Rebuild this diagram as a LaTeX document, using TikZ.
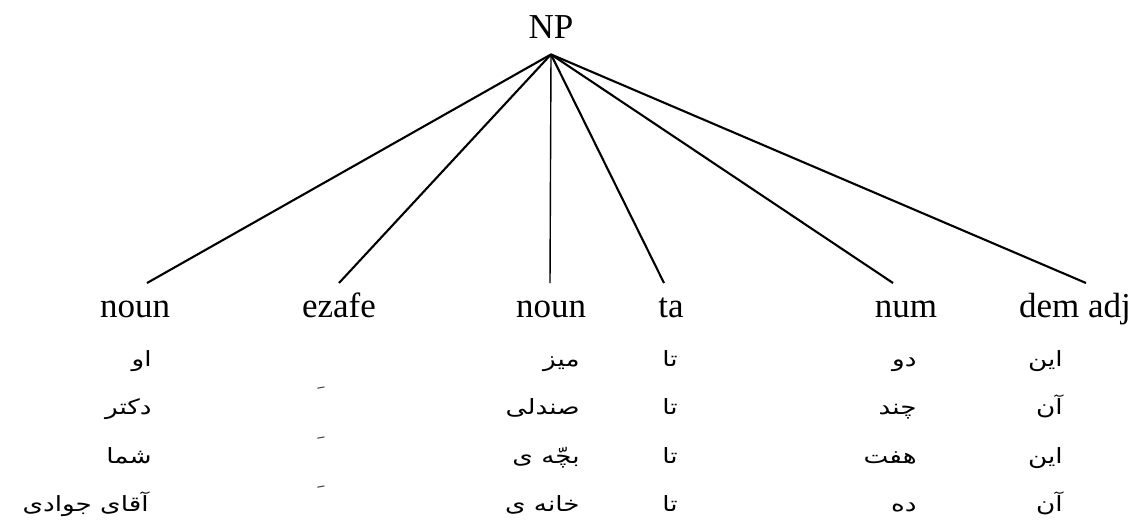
\documentclass[tikz,border=0pt]{standalone}
\usepackage{fontspec}
\setmainfont{Liberation Serif}
\newfontfamily\fa[Script=Arabic,FakeStretch=1.25]{DejaVu Sans}
\TeXXeTstate=1
\begin{document}
\begin{tikzpicture}[x=0.5pt,y=-0.5pt,
  lat/.style={font=\fontsize{17.5}{20}\selectfont, inner sep=0pt, anchor=base},
  cat/.style={lat, text height=0.75em, text depth=0.25em},
  per/.style={font=\fa\fontsize{10.5}{12}\selectfont, inner sep=0pt, anchor=base east},
  ez/.style={font=\fa\fontsize{10}{12}\selectfont, inner sep=0pt, anchor=center, text=black!80},
  br/.style={line width=1.05pt},
  brthin/.style={line width=0.7pt}]
\useasboundingbox (0,0) rectangle (1140,527);
% root
\node[lat, inner ysep=8pt] (NP) at (551,38) {NP};
% categories
\node[cat] (noun1) at (135,317) {noun};
\node[cat] (ezafe) at (339,317) {ezafe};
\node[cat] (noun2) at (551,317) {noun};
\node[cat] (ta) at (671,317) {ta};
\node[cat] (num) at (906,317) {num};
\node[cat] (demadj) at (1075,317) {dem adj};
% branch ends
\coordinate (e1) at (147,283);
\coordinate (e2) at (339,283);
\coordinate (e3) at (550,283);
\coordinate (e4) at (664,283);
\coordinate (e5) at (893,283);
\coordinate (e6) at (1086,283);
\foreach \e in {e1,e2,e4,e5,e6} \draw[br] (NP.south) -- (\e);
\draw[brthin] (NP.south) -- (e3);
% Persian examples: column 1
\node[per] (a1) at (152,366) {\beginR او\endR};
\node[per] (a2) at (152,414) {\beginR دکتر\endR};
\node[per] (a3) at (152,463) {\beginR شما\endR};
\node[per] (a4) at (149,511) {\beginR آقای جوادی\endR};
% ezafe marks
\node[ez] (k1) at (321,388) {ﹺ};
\node[ez] (k2) at (321,438) {ﹺ};
\node[ez] (k3) at (321,487) {ﹺ};
% column 2
\node[per] (b1) at (580,366) {\beginR میز\endR};
\node[per] (b2) at (580,414) {\beginR صندلی\endR};
\node[per] (b3) at (580,463) {\beginR بچّه ی\endR};
\node[per] (b4) at (580,511) {\beginR خانه ی\endR};
% column 3
\node[per] (c1) at (678,366) {\beginR تا\endR};
\node[per] (c2) at (678,414) {\beginR تا\endR};
\node[per] (c3) at (678,463) {\beginR تا\endR};
\node[per] (c4) at (678,511) {\beginR تا\endR};
% column 4
\node[per] (d1) at (917,366) {\beginR دو\endR};
\node[per] (d2) at (917,414) {\beginR چند\endR};
\node[per] (d3) at (917,463) {\beginR هفت\endR};
\node[per] (d4) at (917,511) {\beginR ده\endR};
% column 5
\node[per] (f1) at (1063,366) {\beginR این\endR};
\node[per] (f2) at (1063,414) {\beginR آن\endR};
\node[per] (f3) at (1063,463) {\beginR این\endR};
\node[per] (f4) at (1063,511) {\beginR آن\endR};
\end{tikzpicture}
\end{document}
